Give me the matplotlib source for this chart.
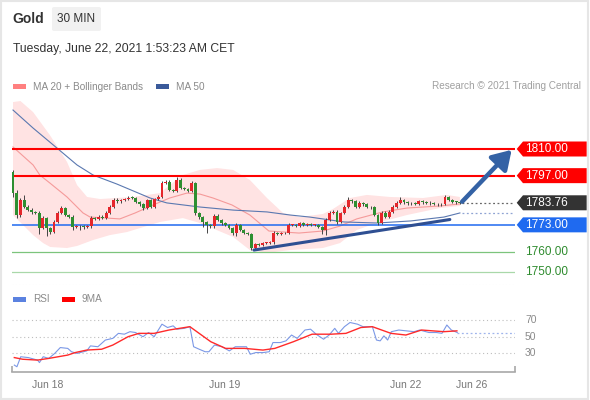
import numpy as np
import matplotlib
matplotlib.use("Agg")
import matplotlib.pyplot as plt
from matplotlib.patches import Rectangle, FancyBboxPatch, Polygon
from matplotlib.transforms import blended_transform_factory

plt.rcParams['font.family'] = ['Liberation Sans', 'DejaVu Sans']

# ---- data (30 min candles) ----
first_open = 1798.8
closes = [1788.5, 1777.8, 1785.1, 1781.7, 1780.2, 1779.3, 1779.0, 1771.5, 1776.3, 1771.5,
          1769.5, 1774.4, 1778.8, 1781.2, 1777.8, 1777.0, 1772.0, 1772.5, 1772.2, 1772.0,
          1772.3, 1776.3, 1776.0, 1777.0, 1776.5, 1778.8, 1781.7, 1785.1, 1784.5, 1785.0,
          1785.5, 1786.3, 1786.0, 1784.2, 1783.0, 1781.2, 1785.0, 1781.7, 1785.5, 1786.8,
          1793.4, 1794.0, 1790.0, 1789.5, 1794.9, 1791.0, 1790.5, 1789.5, 1793.5, 1778.8,
          1776.8, 1774.4, 1773.0, 1772.3, 1777.5, 1775.4, 1774.0, 1772.9, 1771.5, 1769.0,
          1773.0, 1770.5, 1769.0, 1768.5, 1761.7, 1763.5, 1763.3, 1764.0, 1764.2, 1764.5,
          1769.0, 1768.5, 1768.8, 1769.0, 1772.9, 1773.0, 1772.5, 1773.9, 1773.0, 1773.2,
          1772.8, 1773.0, 1772.0, 1770.5, 1775.4, 1778.8, 1779.5, 1774.4, 1778.8, 1781.7,
          1785.1, 1784.5, 1781.7, 1783.5, 1783.0, 1781.7, 1781.5, 1777.8, 1774.0, 1779.0,
          1777.0, 1779.5, 1781.7, 1783.7, 1785.0, 1784.0, 1783.5, 1783.7, 1783.2, 1784.5,
          1784.0, 1783.8, 1783.5, 1783.3, 1783.0, 1783.2, 1786.6, 1785.0, 1784.2, 1784.0,
          1783.76]
wick_up = [1.0, 1.5, 1.0, 2.5, 1.0, 0.8, 0.6, 0.6, 1.0, 0.6,
           0.6, 1.0, 1.0, 0.8, 0.6, 0.6, 0.6, 0.5, 0.5, 0.5,
           0.5, 0.8, 0.6, 0.8, 0.6, 0.8, 0.8, 1.0, 1.0, 0.8,
           0.6, 0.8, 0.8, 0.6, 0.6, 0.6, 0.8, 0.6, 0.8, 0.8,
           1.0, 1.0, 0.8, 0.6, 1.5, 0.8, 0.6, 0.6, 0.8, 0.6,
           0.6, 0.6, 0.6, 0.6, 1.0, 0.8, 0.6, 0.6, 0.6, 0.6,
           1.0, 0.6, 0.6, 0.6, 0.6, 0.8, 0.5, 0.5, 0.5, 0.5,
           1.0, 0.6, 0.5, 0.5, 0.8, 0.6, 0.5, 0.6, 0.5, 0.5,
           0.5, 0.5, 0.5, 0.6, 0.8, 0.8, 0.8, 0.6, 0.6, 0.8,
           1.5, 0.6, 0.6, 1.0, 0.6, 0.6, 0.6, 0.8, 0.6, 0.8,
           0.6, 0.8, 0.8, 1.0, 1.5, 0.6, 0.6, 0.6, 0.6, 0.8,
           0.6, 0.6, 0.6, 0.6, 0.6, 0.6, 0.8, 0.6, 0.6, 0.6,
           0.4]
wick_dn = [2.0, 1.5, 0.8, 0.6, 0.6, 0.8, 0.6, 3.0, 0.6, 4.0,
           0.8, 0.6, 0.6, 0.6, 0.6, 0.6, 1.5, 0.6, 1.5, 1.0,
           0.6, 0.6, 0.6, 0.6, 0.6, 0.6, 0.6, 0.6, 0.6, 0.6,
           0.6, 0.6, 0.6, 0.6, 0.6, 0.8, 0.6, 0.6, 0.6, 0.6,
           0.6, 0.6, 0.6, 0.6, 0.6, 0.6, 0.6, 0.6, 0.6, 1.0,
           0.8, 2.5, 4.0, 0.8, 0.6, 0.6, 1.0, 0.6, 0.6, 0.8,
           1.5, 0.6, 0.6, 0.6, 0.8, 0.6, 0.5, 0.5, 0.5, 0.5,
           0.6, 0.6, 0.5, 0.5, 0.6, 0.6, 0.5, 0.6, 0.5, 0.5,
           0.5, 0.5, 0.6, 2.0, 2.5, 0.6, 0.6, 0.8, 0.6, 0.6,
           0.6, 0.6, 0.6, 0.6, 0.6, 0.6, 0.6, 0.6, 1.0, 0.6,
           0.6, 0.6, 0.6, 0.6, 0.6, 0.6, 0.6, 0.6, 0.6, 0.6,
           0.6, 0.6, 0.6, 0.6, 0.6, 0.6, 0.6, 0.6, 0.6, 0.6,
           0.4]

ma20_idx = [0, 5.4, 7.2, 9.9, 14.5, 18.8, 20.7, 25.2, 28.7, 32.8, 37.6, 42.1, 46.7, 50.2,
            53.7, 58.8, 63.6, 68.7, 76.8, 83.2, 87.8, 92.3, 99.3, 105.8, 114.6, 120]
ma20_val = [1811.0, 1802.2, 1797.3, 1793.4, 1786.6, 1778.8, 1776.8, 1776.3, 1775.9, 1778.8,
            1782.7, 1786.1, 1788.5, 1788.0, 1786.1, 1782.7, 1777.8, 1770.0, 1769.0, 1770.0,
            1772.4, 1775.9, 1779.3, 1781.2, 1782.2, 1783.2]

ma50_idx = [0, 5.4, 12.1, 17.2, 21.5, 27.9, 36.8, 41.3, 50.2, 59.1, 68.2, 74.4, 79.7,
            88.9, 97.7, 106.8, 115.7, 120]
ma50_val = [1829.0, 1820.2, 1810.0, 1802.2, 1797.3, 1792.9, 1786.1, 1783.7, 1781.7, 1780.2,
            1779.3, 1777.8, 1776.8, 1774.4, 1773.9, 1774.9, 1776.8, 1778.8]

bb_up_idx = [0, 2, 5.4, 9.9, 14.5, 17.2, 19.9, 23.4, 32.2, 39.5, 42.1, 45.6, 50.2, 54.8,
             59.1, 63.6, 68.2, 72.5, 77, 83.2, 85.9, 90.5, 95, 101.2, 110.1, 116.5, 120]
bb_up_val = [1832.9, 1833.4, 1828.0, 1816.8, 1803.7, 1792.4, 1786.6, 1785.6, 1786.6, 1788.5,
             1792.4, 1797.3, 1799.8, 1800.7, 1799.8, 1794.9, 1786.1, 1778.8, 1776.8, 1778.3,
             1780.7, 1786.1, 1787.6, 1786.6, 1786.1, 1787.6, 1786.6]
bb_lo_idx = [0, 5.4, 8.1, 10, 14.5, 17.2, 21.5, 26, 30.6, 39.5, 45.6, 50.2, 59.1, 63.6,
             68.2, 74.4, 83.2, 87.8, 92.3, 97.7, 105.8, 114.6, 120]
bb_lo_val = [1777.8, 1768.0, 1764.1, 1762.2, 1761.7, 1762.7, 1765.6, 1768.0, 1769.5, 1774.4,
             1776.3, 1773.9, 1767.1, 1760.7, 1759.3, 1760.7, 1761.7, 1764.1, 1770.5, 1773.9,
             1777.8, 1781.2, 1782.2]

trend_idx = [64.7, 117.3]
trend_val = [1760.7, 1775.6]

levels_tag = [(1810.00, '#ff0000'), (1797.00, '#ff0000'), (1783.76, '#333333'), (1773.00, '#1f6af0')]
levels_green = [1760.00, 1750.00]

rsi_idx = [0.35, 1.05, 2.07, 4.1, 6.6, 7.1, 8.1, 9.6, 11.2, 12.7, 14.7, 15.7, 17.2, 19.8,
           20.8, 22.8, 24.8, 26.8, 28.3, 29.9, 31.4, 32.9, 34.9, 36.4, 37.9, 40, 41.5, 43,
           44, 46, 47.5, 48.5, 50, 51.6, 52.6, 54.1, 56.1, 58.1, 59.7, 62.7, 63.7, 65.2,
           67.2, 68.8, 69.8, 71.8, 73.3, 74.8, 76.3, 78.4, 79.9, 81.4, 83.4, 84.9, 86.4,
           87.4, 89, 90.5, 92.5, 94, 96.5, 97.6, 98.6, 99.6, 100.6, 101.6, 103.6, 105.6,
           107.7, 109.2, 111.7, 113.7, 115.2, 116.5, 117.7, 119.3]
rsi_val = [16, 14, 26, 25, 22, 19, 26, 24, 30, 37, 36, 32, 30, 33,
           39, 38, 46, 48, 54, 53, 56, 55, 50, 55, 50, 65, 61, 63,
           59, 60, 62, 38, 35, 32, 32, 40, 38, 33, 38, 38, 29, 31,
           31, 32, 43, 43, 45, 52, 48, 58, 59, 53, 47, 52, 60,
           54, 62, 67, 65, 62, 62, 46, 45, 51, 46, 56, 58, 57,
           56, 58, 55, 55, 54, 64, 58, 55]
ma9_idx = [0.35, 2.6, 6.6, 9.6, 14.7, 16.7, 19.8, 23.8, 26.8, 30.9, 33.8, 37.9, 41.9, 47.5,
           53.1, 57.1, 62.2, 67.1, 70.3, 75.3, 80.3, 85.4, 89.4, 93.4, 96.5, 101.5, 105.5,
           109.7, 115.7, 119.2]
ma9_val = [25, 23, 22, 24, 28, 31, 34, 35, 40, 50, 54, 54, 58, 62,
           44, 36, 36, 34, 36, 44, 53, 53, 54, 61, 62, 54, 52,
           58, 56, 57]
rsi_levels = [70, 50, 30]

date_pos = [9.4, 56.9, 105.5, 123.2]
date_lab = ['Jun 18', 'Jun 19', 'Jun 22', 'Jun 26']

# ---- figure ----
W, H = 590, 400
fig = plt.figure(figsize=(W / 100, H / 100), dpi=100)
fig.patch.set_facecolor('white')


def fx(px):
    return px / W


def fy(py):
    return 1 - py / H


fig.add_artist(Rectangle((0.002, 0.003), 0.995, 0.994, transform=fig.transFigure,
                         fill=False, edgecolor='#e6e6e6', lw=1.5))

# header
fig.text(fx(12), fy(19), 'Gold', fontsize=10, fontweight='bold', color='#333333', va='center')
fig.add_artist(FancyBboxPatch((fx(52), fy(31)), fx(49), 24 / H, transform=fig.transFigure,
                              boxstyle='round,pad=0,rounding_size=0.004',
                              facecolor='#f1f1f1', edgecolor='none'))
fig.text(fx(76.5), fy(19), '30 MIN', fontsize=8.5, color='#333333', ha='center', va='center')
fig.text(fx(13), fy(49), 'Tuesday, June 22, 2021 1:53:23 AM CET', fontsize=8.7,
         color='#333333', va='center')

# legends
fig.add_artist(Rectangle((fx(13), fy(88.5)), fx(13), 4.5 / H, transform=fig.transFigure,
                         facecolor='#ff8080', edgecolor='none'))
fig.text(fx(33), fy(86.5), 'MA 20 + Bollinger Bands', fontsize=7.2, color='#8a8a8a', va='center')
fig.add_artist(Rectangle((fx(156), fy(88.5)), fx(13), 4.5 / H, transform=fig.transFigure,
                         facecolor='#3a5a9a', edgecolor='none'))
fig.text(fx(176), fy(86.5), 'MA 50', fontsize=7.2, color='#8a8a8a', va='center')
fig.text(fx(581), fy(86), 'Research \u00a9 2021 Trading Central', fontsize=7.2,
         color='#a0a0a0', ha='right', va='center')

fig.add_artist(Rectangle((fx(13), fy(301.5)), fx(13), 4.5 / H, transform=fig.transFigure,
                         facecolor='#5b82e0', edgecolor='none'))
fig.text(fx(33), fy(299.5), 'RSI', fontsize=7.2, color='#8a8a8a', va='center')
fig.add_artist(Rectangle((fx(62), fy(301.5)), fx(13), 4.5 / H, transform=fig.transFigure,
                         facecolor='#ff0000', edgecolor='none'))
fig.text(fx(82), fy(299.5), '9MA', fontsize=7.2, color='#8a8a8a', va='center')

# ---- price panel ----
xmin, xmax = -0.27, 134.8
ax = fig.add_axes([fx(12), fy(285), fx(503), 190 / H])
ax.set_xlim(xmin, xmax)
ax.set_ylim(1743.66, 1836.34)
ax.axis('off')

# bollinger band + moving averages
band_x = list(bb_up_idx) + list(reversed(bb_lo_idx))
band_y = list(bb_up_val) + list(reversed(bb_lo_val))
ax.fill(band_x, band_y, color='#ffe3e3', lw=0, zorder=1)
ax.plot(ma20_idx, ma20_val, color='#f59a9a', lw=0.8, zorder=2)
ax.plot(ma50_idx, ma50_val, color='#5a78b0', lw=0.8, zorder=2)

# levels
for lev, col in levels_tag:
    if lev == 1783.76:
        continue
    lw = 1.5 if col == '#ff0000' else 1.1
    ax.axhline(lev, color=col, lw=lw, zorder=3)
ax.axhline(levels_green[0], color='#7cc47c', lw=0.9, zorder=3)
ax.axhline(levels_green[1], color='#a9d8a9', lw=0.9, zorder=3)

# candles
opens = [first_open] + closes[:-1]
idx = np.arange(len(closes))
for i in idx:
    o, c = opens[i], closes[i]
    top, bot = max(o, c), min(o, c)
    col = '#e5262b' if c > o else '#2e8f31'
    ax.vlines(i, bot - wick_dn[i], top + wick_up[i], color='#444444', lw=0.7, zorder=4)
    ax.bar(i, max(top - bot, 0.4), bottom=bot, width=0.78, color=col, lw=0, zorder=5)

# trend line and dotted projections
ax.plot(trend_idx, trend_val, color='#2f4f92', lw=2.2, solid_capstyle='round', zorder=6)
ax.plot([idx[-1] + 0.5, xmax], [closes[-1]] * 2, ls=(0, (1.5, 2)), color='#666666', lw=0.9)
ax.plot([idx[-1] + 0.5, xmax], [ma50_val[-1]] * 2, ls=(0, (1.5, 2)), color='#8fa3d3', lw=0.9)

ax.annotate('', xy=(133.9, 1809.6), xytext=(120.6, 1784.3),
            arrowprops=dict(arrowstyle='-|>,head_length=0.8,head_width=0.5', lw=3.2,
                            color='#3462a5', shrinkA=0, shrinkB=0, mutation_scale=14),
            zorder=7)

# price tags
tr = blended_transform_factory(ax.transAxes, ax.transData)
hh = 7.5 / 2.05
for lev, col in levels_tag:
    pts = [(1.0034, lev), (1.0159, lev + hh), (1.1425, lev + hh),
           (1.1425, lev - hh), (1.0159, lev - hh)]
    ax.add_patch(Polygon(pts, closed=True, transform=tr, facecolor=col, edgecolor='none',
                         clip_on=False, zorder=8))
    ax.text(1.0199, lev, f'{lev:.2f}', transform=tr, color='white', fontsize=8.5,
            va='center', ha='left', clip_on=False, zorder=9)
for lev in levels_green:
    ax.text(1.0199, lev, f'{lev:.2f}', transform=tr, color='#2e8b2e', fontsize=8.5,
            va='center', ha='left', clip_on=False)

# faint separator
ax.axhline(1743.9, color='#e2e2e2', lw=0.8, ls=(0, (1, 2)))

# ---- RSI panel ----
ax2 = fig.add_axes([fx(12), fy(372), fx(503), 67 / H])
ax2.set_xlim(xmin, xmax)
ax2.set_ylim(7.73, 87.96)
for s in ['top', 'right', 'left']:
    ax2.spines[s].set_visible(False)
ax2.spines['bottom'].set_color('#a8a8a8')
ax2.spines['bottom'].set_linewidth(1.2)
ax2.set_yticks([])
ax2.set_xticks([])
ax2.patch.set_alpha(0)
for lv in rsi_levels:
    ax2.axhline(lv, color='#bdbdbd', lw=0.8, ls=(0, (1, 2.5)))
    ax2.text(1.0199, lv, str(lv), transform=blended_transform_factory(ax2.transAxes, ax2.transData),
             fontsize=7.5, color='#8a8a8a', va='center', ha='left')
ax2.plot(rsi_idx, rsi_val, color='#7b98e6', lw=0.8)
ax2.plot([rsi_idx[-1], xmax], [rsi_val[-1]] * 2, color='#9fb4ec', lw=0.9, ls=(0, (1.5, 2)))
ax2.plot(ma9_idx, ma9_val, color='#ff2a2a', lw=1.0)
ax2.vlines([xmin, xmax], 7.73, 14.5, color='#a8a8a8', lw=1.2, clip_on=False)
for p, lab in zip(date_pos, date_lab):
    ax2.text(p, -8, lab, fontsize=7.5, color='#777777', ha='center', va='center', clip_on=False)

fig.savefig('out.png', dpi=100)
